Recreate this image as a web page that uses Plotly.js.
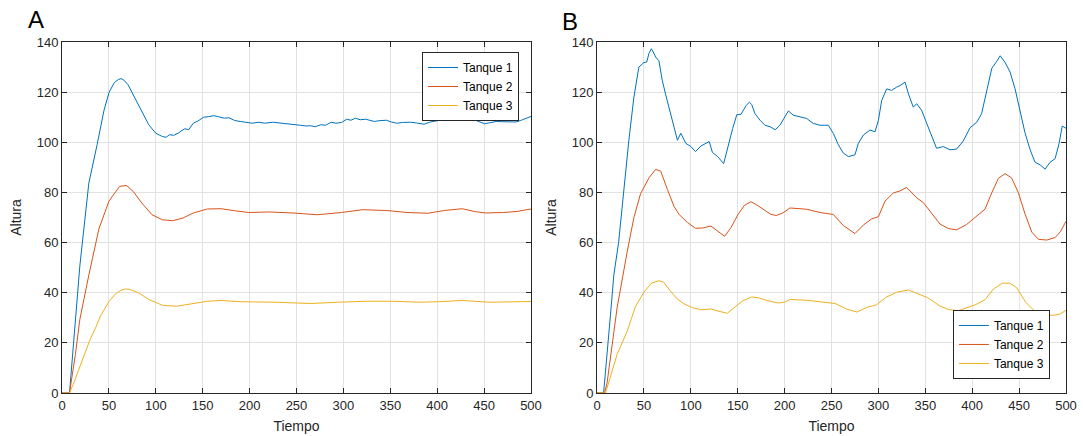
<!DOCTYPE html>
<html>
<head>
<meta charset="utf-8">
<script src="https://cdn.plot.ly/plotly-3.0.1.min.js"></script>
<style>html,body{margin:0;padding:0;background:#fff;}#chart{width:1083px;height:436px;}</style>
</head>
<body>
<div id="chart"></div>
<script>
// Panel A
const tA1 = [0,8,19,21.4,28.6,37.4,44.8,50.3,55.8,60,63,66,70.5,77.8,85,92.5,100,107,111,114.5,119,123.7,127,131,135,140,145,151,156,162,167,173,178,184,190,197,203,210,216,224.7,231,239,246,254,260,265,270,276,281,287,292,298,303.6,308,312.8,318,323.8,328,333,338,345.8,351,356.8,363,371.5,378,386,392,399,405,412,419,425,430,436,441,446,450.4,456,463,470,478,484,489,495,500];
const yA1 = [0,0,50.6,58.6,83.7,99,112.8,120,123.8,125,125.4,124.8,122.9,117.6,112.3,107,103.6,102.3,102,103,102.8,103.6,104.5,105.4,105,107.6,108.5,110,110.2,110.6,110.2,109.6,109.8,108.7,108.3,107.9,107.6,108,107.6,108,107.8,107.4,107.2,106.8,106.5,106.6,106.2,107,106.8,108,107.6,107.9,109.2,108.8,109.6,109,109.2,108.8,108.3,108.6,108.8,108.1,107.6,107.9,108,107.7,107.2,108,108.7,109,109.6,110.3,109.8,110,109.5,108.7,108,107.4,107.8,108.3,108.2,108.3,108.1,108.7,109.5,110.3];
const tA2 = [0,8,14.3,19,28.6,39.3,50,61.3,68.6,76,85,96,107,118,129,140,155,169.6,184,199,221,246.7,272,298,320,345.8,367.8,390,408,426.6,441,452,470.6,485,500];
const yA2 = [0,0,15.4,29.3,47,65.4,76.5,82.4,82.8,80.4,75.8,71.1,69.1,68.7,69.8,71.8,73.4,73.5,72.7,72,72.2,71.8,71.1,72,73.1,72.8,72,71.7,72.8,73.5,72.3,71.8,72,72.4,73.4];
const tA3 = [0,8,12,21.4,30,35.7,41,50,57,63,68,72.3,81.5,92.5,107,122,136.5,155,169.6,191.6,228,265,294,324,353,382.5,401,426.6,456,500];
const yA3 = [0,0,3.5,12.8,21.4,25.9,30.7,36.4,39.5,41,41.5,41.3,40,37.3,35,34.6,35.6,36.6,36.9,36.4,36.2,35.7,36.2,36.6,36.6,36.2,36.4,36.9,36.2,36.5];

// Panel B
const tB1 = [0,7,14.3,17.9,23,28.6,34,39.3,44.6,50,53,55.4,57.9,60,62.5,66,69.6,73,76.8,80.4,85.7,89.3,94.6,100,105,110.7,116,119.6,123,128.6,135,139.3,144.6,149,153.6,159,162.5,165,168.4,173.8,179,184.5,190,195,200.4,204,209.3,216.4,223.5,230.6,237.7,246.6,252,257.3,262.6,268,275,278.6,284,291,296.4,300,303.5,308.8,314,319.5,323,328.4,332,337.2,340.8,346,351.5,356.8,362,369.2,376.3,383.4,390.5,397.7,404.8,410,415.5,420.9,426.2,429.8,435,440.4,445.7,451,456.4,461.8,467,472.4,477.7,483,488.4,492.6,496,500];
const yB1 = [0,0,31,47,60,81,101,118,130,131.8,132,135.5,137.3,136,134,132.5,124.6,119.3,114,108.8,100.8,103.6,99.6,98.3,96.3,98.5,99.6,100.3,96,94.3,91.5,98,105.5,111,111.2,114.7,116,115,111.4,108.8,106.8,106.2,105,106.8,110,112.5,110.8,110,109.5,107.5,106.8,106.8,103.5,99,95.7,94.3,95,99.6,102.9,104.9,104.2,108.8,116.7,121.3,120.7,122,122.6,124,119.3,114,115.4,112.8,107.5,102.2,97.6,98.3,97,97.3,100.5,105.8,108,111.4,121,129.5,132.3,134.5,131.9,128,121.3,112.8,103.6,97,92,91,89.3,92,93.5,99.5,106.5,105.6];
const tB2 = [0,8,10.7,21.4,32,39.3,46.4,55.4,62.5,67.9,75,82,87.5,96.4,105,112.5,121.4,128.6,136,142.9,150,157,164,170,177.3,185,191,198,205.7,214,223.5,237.7,252,262.6,275,284,293,300,307,316,323,330,336,341,348,356.8,365.6,374.5,383.4,394,404.8,413.6,420.9,427.9,435,442,449.2,456.4,463.5,470.6,479.5,488.4,494,500];
const yB2 = [0,0,4,34,56,70,79.5,85.8,89.2,88.5,81.2,74.5,71.2,68,65.7,65.8,66.6,64.6,62.5,66,71,74.8,76.3,75.1,73.2,71.3,70.8,71.8,73.8,73.5,73.3,72,71.2,66.8,63.6,67,69.5,70.3,76.5,79.8,80.6,82,79.5,77.8,75.9,71.5,67.4,65.6,65.1,67.2,70.6,73.3,79.9,85.6,87.5,85.8,79.9,71.3,64.2,61.3,61,62,64.3,68.5];
const tB3 = [0,9,10.7,13.6,21.4,32,41,50,58,66,71,78,85.5,93,102,110.7,121.4,130,139,146,155.5,165,172,181,193,199.7,206,223.5,241,254,266,277,288,298,308.8,319.5,332,341.5,348,352.6,365.6,374.7,385,397.7,404,413.6,422.7,432,440,447.4,457,467,477,486,493,500];
const yB3 = [0,0,2,5.4,15.4,24.5,34.5,40.2,43.8,44.8,44.2,40.8,37.5,35.5,34,33.2,33.5,32.6,31.8,34,36.8,38.3,38,36.9,35.9,36.2,37.3,37,36.3,35.7,33.5,32.3,34.2,35.2,38.3,40.2,41.1,39.6,38.8,38,34.7,33.3,32.8,34.3,35.3,37.2,41.5,43.8,43.8,42,36.2,32.5,31,31,31.4,33];

const seriesNames = ['Tanque 1','Tanque 2','Tanque 3'];
const colors = ['#0072BD','#D95319','#EDB120'];
const xTicks = [0,50,100,150,200,250,300,350,400,450,500];
const yTicks = [0,20,40,60,80,100,120,140];

function tr(x, y, i, xa, ya, lg) {
  return {x: x, y: y, type: 'scatter', mode: 'lines', name: seriesNames[i],
    line: {color: colors[i], width: 1}, xaxis: xa, yaxis: ya, legend: lg};
}
const data = [
  tr(tA1, yA1, 0, 'x', 'y', 'legend'),
  tr(tA2, yA2, 1, 'x', 'y', 'legend'),
  tr(tA3, yA3, 2, 'x', 'y', 'legend'),
  tr(tB1, yB1, 0, 'x2', 'y2', 'legend2'),
  tr(tB2, yB2, 1, 'x2', 'y2', 'legend2'),
  tr(tB3, yB3, 2, 'x2', 'y2', 'legend2')
];

const ink = '#262626';
const fam = 'Liberation Sans, Arial, sans-serif';
const tickFont = {family: fam, size: 13, color: ink};
const titleFont = {family: fam, size: 14, color: ink};
function xax(dom, anchor) {
  return {domain: dom, anchor: anchor, range: [0, 500], tickvals: xTicks, ticktext: xTicks.map(String),
    showgrid: true, gridcolor: '#e2e2e2', zeroline: false, showline: true, linecolor: ink, linewidth: 1,
    mirror: 'ticks', ticks: 'inside', ticklen: 5, tickcolor: ink, tickfont: tickFont,
    title: {text: 'Tiempo', font: titleFont, standoff: 9}};
}
function yax(anchor) {
  return {domain: [0, 1], anchor: anchor, range: [0, 140], tickvals: yTicks, ticktext: yTicks.map(String),
    showgrid: true, gridcolor: '#e2e2e2', zeroline: false, showline: true, linecolor: ink, linewidth: 1,
    mirror: 'ticks', ticks: 'inside', ticklen: 5, tickcolor: ink, tickfont: tickFont,
    title: {text: 'Altura', font: titleFont, standoff: 11}};
}
const legFont = {family: fam, size: 12, color: '#000'};
const layout = {
  width: 1083, height: 436,
  margin: {l: 62, r: 17, t: 42, b: 43},
  paper_bgcolor: '#fff', plot_bgcolor: '#fff',
  showlegend: true,
  xaxis: xax([0, 0.4671], 'y'),
  yaxis: yax('x'),
  xaxis2: xax([0.5329, 1], 'y2'),
  yaxis2: yax('x2'),
  legend: {x: 0.4552, y: 0.9715, xanchor: 'right', yanchor: 'top', bgcolor: '#fff',
    bordercolor: ink, borderwidth: 1, font: legFont, tracegroupgap: 0},
  legend2: {x: 0.984, y: 0.04, xanchor: 'right', yanchor: 'bottom', bgcolor: '#fff',
    bordercolor: ink, borderwidth: 1, font: legFont, tracegroupgap: 0},
  annotations: [
    {text: 'A', xref: 'paper', yref: 'paper', x: -0.0259, y: 1.0627, xanchor: 'center', yanchor: 'middle', showarrow: false,
      font: {family: fam, size: 24, color: '#000'}},
    {text: 'B', xref: 'paper', yref: 'paper', x: 0.506, y: 1.057, xanchor: 'center', yanchor: 'middle', showarrow: false,
      font: {family: fam, size: 24, color: '#000'}}
  ]
};
Plotly.newPlot('chart', data, layout, {displayModeBar: false, staticPlot: true});
</script>
</body>
</html>
